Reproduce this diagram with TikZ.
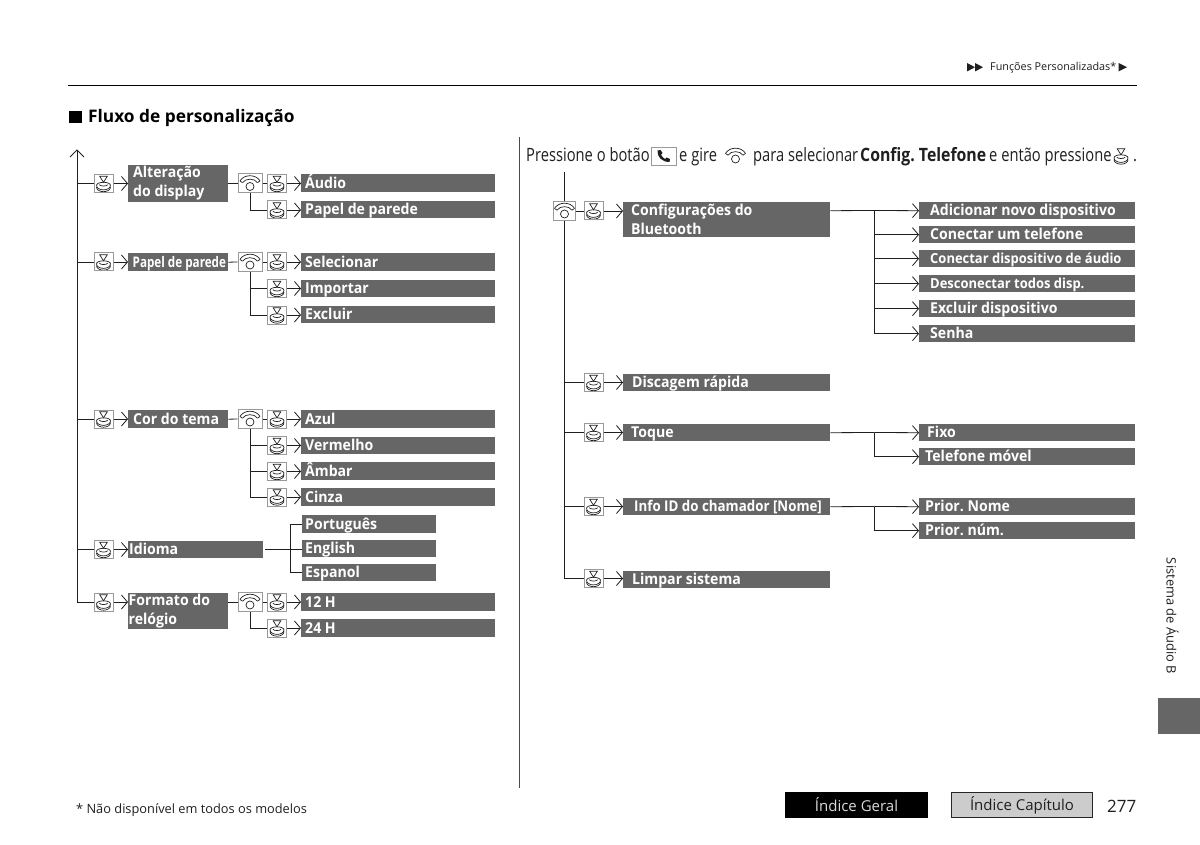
\documentclass[tikz,border=0pt]{standalone}
\usepackage{fontspec}
\setmainfont{Open Sans}
\newfontfamily\condfont[FakeStretch=0.8]{Open Sans}
\newfontfamily\boldcond[FakeStretch=0.86]{Open Sans}
\newfontfamily\narrowfont[FakeStretch=0.9]{Open Sans}
\newfontfamily\menufont[FakeStretch=0.94]{Open Sans}
\usetikzlibrary{arrows.meta}
\definecolor{menugray}{gray}{0.40}
\definecolor{iconedge}{gray}{0.6}
\definecolor{inktone}{gray}{0.12}
\frenchspacing

% Drawings of the two controls, centred on the node that carries them
\newcommand{\pressglyph}{%
  \begin{scope}[shift={(path picture bounding box.center)},line width=0.7pt,draw=inktone]
    \draw (-3.8,-7.2) -- (3.8,-7.2) -- (0,-1.2) -- cycle;
    \draw (-7,1.8) arc[start angle=180,end angle=360,x radius=7,y radius=-4.6];
    \draw (-7,1.8) arc[start angle=180,end angle=0,x radius=7,y radius=-3];
    \draw (-7,3.6) arc[start angle=180,end angle=360,x radius=7,y radius=-4.6];
    \draw (-4.2,1.2) .. controls (-3,3) and (3,3) .. (4.2,1.2);
  \end{scope}}
\newcommand{\dialglyph}{%
  \begin{scope}[shift={(path picture bounding box.center)},line width=0.7pt,draw=inktone]
    \draw (0,3) circle[radius=4];
    \draw (-7.5,-0.8) .. controls (-4.5,-5.5) and (4.5,-5.5) .. (7.5,-0.8);
    \draw (-10,-2.6) .. controls (-6,-9.5) and (6,-9.5) .. (10,-2.6);
    \draw (-10,-2.6) -- (-7.5,-0.8) (10,-2.6) -- (7.5,-0.8);
  \end{scope}}

\tikzset{
  x=1pt,y=-1pt,
  wire/.style={line width=0.8pt,draw=inktone},
  arrowed/.style={wire,-{Straight Barb[length=6pt,width=14pt,line width=0.8pt]}},
  pressbtn/.style={draw=iconedge,fill=white,line width=1pt,minimum width=19pt,minimum height=18pt,inner sep=0pt,path picture={\pressglyph}},
  dialbtn/.style={draw=iconedge,fill=white,line width=1pt,minimum width=24pt,minimum height=19pt,inner sep=0pt,path picture={\dialglyph}},
  pressbare/.style={minimum width=20pt,minimum height=18pt,inner sep=0pt,path picture={\pressglyph}},
  dialbare/.style={minimum width=26pt,minimum height=20pt,inner sep=0pt,path picture={\dialglyph}},
  menutext/.style={font=\menufont\fontsize{15}{19}\selectfont\bfseries,text=white,inner sep=0pt},
  plain/.style={inner sep=0pt,text=inktone},
  instr/.style={plain,anchor=base west,font=\condfont\fontsize{18.4}{20}\selectfont},
}

% Grey menu entry with one line of text: name, left, top, right, bottom, text inset, text
\newcommand{\menuitem}[7]{%
  \pgfmathsetmacro{\mw}{#4-#2}%
  \pgfmathsetmacro{\mh}{#5-#3}%
  \pgfmathsetmacro{\mtx}{#2+#6}%
  \pgfmathsetmacro{\mty}{#5-3.5}%
  \node[fill=menugray,anchor=north west,inner sep=0pt,minimum height=\mh pt,minimum width=\mw pt] (#1) at (#2,#3) {};
  \node[menutext,anchor=base west] (#1t) at (\mtx,\mty) {#7};}
% Grey menu entry with two lines of text, same arguments
\newcommand{\menutwo}[7]{%
  \pgfmathsetmacro{\mw}{#4-#2}%
  \pgfmathsetmacro{\mh}{#5-#3}%
  \pgfmathsetmacro{\mtx}{#2+#6}%
  \node[fill=menugray,anchor=north west,inner sep=0pt,minimum height=\mh pt,minimum width=\mw pt] (#1) at (#2,#3) {};
  \node[menutext,anchor=west,align=left] (#1t) at (\mtx,#3/2+#5/2) {#7};}

\begin{document}
\begin{tikzpicture}
\useasboundingbox (0,0) rectangle (1200,845);
\fill[white] (0,0) rectangle (1200,845);

% Page header
\draw[line width=1pt,draw=black] (68,85.5) -- (1137,85.5);
\fill[inktone] (967,63) -- (967,71.5) -- (975,67.2) -- cycle
               (975,63) -- (975,71.5) -- (983,67.2) -- cycle
               (1118.5,63) -- (1118.5,71.5) -- (1127,67.2) -- cycle;
\node[plain,anchor=base west,font=\fontsize{10.8}{14}\selectfont] (hdr) at (990,71) {Funções Personalizadas*};
\fill[black] (69,111) rectangle (82,123);
\node[plain,anchor=base west,text=black,font=\fontsize{17.3}{20}\selectfont\bfseries] (ttl) at (88,123) {Fluxo de personalização};
\draw[line width=1.2pt,draw=inktone!80] (519.5,137) -- (519.5,788);

% Left column: display settings
\coordinate (ltop) at (77,150);
\coordinate (lend) at (77,602);
\draw[wire] (lend) -- (ltop);
\draw[wire] (70,157) -- (ltop) -- (84,157);

\node[pressbtn] (p1) at (103.5,183.5) {};
\node[pressbtn] (p2) at (103.5,262) {};
\node[pressbtn] (p3) at (103.5,419) {};
\node[pressbtn] (p4) at (103.5,549.5) {};
\node[pressbtn] (p5) at (103.5,602) {};
\menutwo{a}{128}{165}{228}{202}{5}{Alteração\\do display}
\menuitem{b}{128}{253}{228}{271}{4.5}{\condfont\fontsize{14.6}{16}\selectfont\bfseries Papel de parede}
\menuitem{c}{128}{410}{228}{428}{5}{Cor do tema}
\menuitem{d}{128}{541}{263}{558}{1}{Idioma}
\menutwo{e}{128}{593}{228}{629}{0.5}{Formato do\\relógio}
\foreach \n/\m/\k in {1/a/183.5,2/b/262,3/c/419,4/d/549.5,5/e/602}{
  \coordinate (t\n) at (77,\k);
  \draw[wire] (t\n) -- (p\n.west);
  \draw[arrowed] (p\n.east) -- (p\n.east -| \m.west);
}

% Dial and press pairs after each first-level entry
\node[dialbtn] (d1) at (250,183.5) {};
\node[pressbtn] (q1) at (277,183.5) {};
\menuitem{a1}{301}{173.5}{495}{192}{4}{Áudio}
\node[pressbtn] (q2) at (277,210) {};
\menuitem{a2}{301}{201}{495}{218}{4}{Papel de parede}
\draw[wire] (a.east |- d1) -- (d1.west);
\draw[wire] (d1.east) -- (q1.west);
\draw[wire] (d1.south) |- (q2.west);
\draw[arrowed] (q1.east) -- (a1.west |- q1);
\draw[arrowed] (q2.east) -- (a2.west |- q2);

\node[dialbtn] (d2) at (250,262) {};
\node[pressbtn] (q3) at (277,262) {};
\menuitem{b1}{301}{253}{495}{271}{4}{Selecionar}
\node[pressbtn] (q4) at (277,288.5) {};
\menuitem{b2}{301}{280}{495}{297}{4}{Importar}
\node[pressbtn] (q5) at (277,315) {};
\menuitem{b3}{301}{306}{495}{323}{4}{Excluir}
\draw[wire] (b.east) -- (d2.west);
\draw[wire] (d2.east) -- (q3.west);
\draw[wire] (d2.south) |- (q4.west);
\draw[wire] (d2.south) |- (q5.west);
\foreach \q/\l in {q3/b1,q4/b2,q5/b3}{\draw[arrowed] (\q.east) -- (\l.west |- \q);}

\node[dialbtn] (d3) at (250,419) {};
\node[pressbtn] (q6) at (277,419) {};
\menuitem{c1}{301}{410}{495}{428}{4}{Azul}
\node[pressbtn] (q7) at (277,445.5) {};
\menuitem{c2}{301}{437}{495}{454}{4}{Vermelho}
\node[pressbtn] (q8) at (277,471.5) {};
\menuitem{c3}{301}{461.5}{495}{480}{4}{Âmbar}
\node[pressbtn] (q9) at (277,497) {};
\menuitem{c4}{301}{488}{495}{506}{4}{Cinza}
\draw[wire] (c.east) -- (d3.west);
\draw[wire] (d3.east) -- (q6.west);
\draw[wire] (d3.south) |- (q7.west);
\draw[wire] (d3.south) |- (q8.west);
\draw[wire] (d3.south) |- (q9.west);
\foreach \q/\l in {q6/c1,q7/c2,q8/c3,q9/c4}{\draw[arrowed] (\q.east) -- (\l.west |- \q);}

% Language choices, reached without a control
\menuitem{l1}{302}{515}{436}{533}{3}{Português}
\menuitem{l2}{302}{540}{436}{557}{3}{English}
\menuitem{l3}{302}{564}{436}{581}{3}{Espanol}
\coordinate (dgap) at (265,549);
\coordinate (dfork) at (290,549);
\draw[wire] (dgap) -- (l2.west |- dgap);
\draw[wire] (l1.west) -| (dfork);
\draw[wire] (l3.west) -| (dfork);

\node[dialbtn] (d4) at (250,602) {};
\node[pressbtn] (q10) at (277,602) {};
\menuitem{e1}{301}{593}{495}{611}{4}{12 H}
\node[pressbtn] (q11) at (277,628) {};
\menuitem{e2}{301}{619}{495}{637}{4}{24 H}
\draw[wire] (e.east |- d4) -- (d4.west);
\draw[wire] (d4.east) -- (q10.west);
\draw[wire] (d4.south) |- (q11.west);
\draw[arrowed] (q10.east) -- (e1.west |- q10);
\draw[arrowed] (q11.east) -- (e2.west |- q11);

% Right column: instruction line
\node[instr] (i1) at (526,162) {Pressione o botão};
\node[draw=iconedge,line width=0.8pt,fill=white,minimum width=25pt,minimum height=18pt,inner sep=0pt] (phone) at (663.5,156) {};
\fill[inktone] (657.5,150.5) .. controls (657,157) and (662,162) .. (669.5,162)
   -- (670,159) -- (666.5,157.5) -- (665,159) .. controls (663,158) and (661.5,156) .. (661,154.5)
   -- (662.5,153) -- (660.5,150) -- cycle;
\node[instr] (i2) at (679,162) {e gire};
\node[dialbare] (i3) at (735.5,156) {};
\node[instr] (i4) at (753,162) {para selecionar};
\node[instr,font=\boldcond\fontsize{18.4}{20}\selectfont\bfseries] (i5) at (860,162) {Config. Telefone};
\node[instr] (i6) at (989,162) {e então pressione};
\node[pressbare] (i7) at (1121,156) {};
\node[instr] (i8) at (1133,162) {.};

% Right column: phone settings
\coordinate (rtop) at (564.5,172);
\coordinate (rend) at (564.5,578.5);
\draw[wire] (rtop) -- (rend);
\node[dialbtn,minimum width=22pt] (rd) at (564.5,211) {};
\node[pressbtn] (r1) at (593.5,211) {};
\node[pressbtn] (r2) at (593.5,382.5) {};
\node[pressbtn] (r3) at (593.5,432.5) {};
\node[pressbtn] (r4) at (593.5,506.5) {};
\node[pressbtn] (r5) at (593.5,578.5) {};
\menutwo{m1}{623}{202}{830}{237}{8}{Configurações do\\Bluetooth}
\menuitem{m2}{623}{374}{830}{391}{9}{Discagem rápida}
\menuitem{m3}{623}{424}{830}{441}{8}{Toque}
\menuitem{m4}{623}{498}{830}{515}{11}{\narrowfont\fontsize{14.8}{18}\selectfont\bfseries Info ID do chamador [Nome]}
\menuitem{m5}{623}{571}{830}{588}{9}{Limpar sistema}
\draw[wire] (rd.east) -- (r1.west);
\draw[arrowed] (r1.east) -- (r1.east -| m1.west);
\foreach \n/\m/\k in {2/m2/382.5,3/m3/432.5,4/m4/506.5,5/m5/578.5}{
  \coordinate (u\n) at (564.5,\k);
  \draw[wire] (u\n) -- (r\n.west);
  \draw[arrowed] (r\n.east) -- (r\n.east -| \m.west);
}

\menuitem{n1}{919}{202}{1135}{219}{11}{Adicionar novo dispositivo}
\menuitem{n2}{919}{226}{1135}{243}{11}{Conectar um telefone}
\menuitem{n3}{919}{250}{1135}{267}{11}{\fontsize{13.8}{17}\selectfont\bfseries Conectar dispositivo de áudio}
\menuitem{n4}{919}{275}{1135}{292}{11}{\fontsize{13.8}{17}\selectfont\bfseries Desconectar todos disp.}
\menuitem{n5}{919}{300}{1135}{317}{11}{Excluir dispositivo}
\menuitem{n6}{919}{325}{1135}{342}{11}{Senha}
\coordinate (f1) at (874.5,210.5);
\draw[wire] (m1.east |- n1) -- (f1);
\draw[arrowed] (f1) -- (n1.west);
\foreach \l in {n2,n3,n4,n5,n6}{\draw[arrowed] (f1) |- (\l.west);}

\menuitem{o1}{919}{424}{1135}{441}{8}{Fixo}
\menuitem{o2}{919}{448}{1135}{465}{6}{Telefone móvel}
\coordinate (f2) at (874.5,432.5);
\draw[wire] (m3.east) -- (f2);
\draw[arrowed] (f2) -- (o1.west);
\draw[arrowed] (f2) |- (o2.west);

\menuitem{s1}{919}{498}{1135}{515}{6}{Prior. Nome}
\menuitem{s2}{919}{522}{1135}{539}{6}{Prior. núm.}
\coordinate (f3) at (874.5,506.5);
\draw[wire] (m4.east) -- (f3);
\draw[arrowed] (f3) -- (s1.west);
\draw[arrowed] (f3) |- (s2.west);

% Page footer and chapter tab
\node[plain,anchor=base west,font=\fontsize{12.8}{15}\selectfont] (note) at (76,813) {* Não disponível em todos os modelos};
\node[fill=black,text=white!85!black,minimum width=143pt,minimum height=26pt,inner sep=0pt,font=\fontsize{15}{18}\selectfont] (geral) at (856.5,805) {Índice Geral};
\node[fill=gray!40,draw=black!85,line width=1.3pt,text=inktone,minimum width=141pt,minimum height=24.5pt,inner sep=0pt,font=\fontsize{15}{18}\selectfont] (cap) at (1022,805) {Índice Capítulo};
\node[plain,anchor=west,font=\fontsize{17}{20}\selectfont] (pg) at (1107,806) {277};
\node[plain,rotate=-90,font=\fontsize{12.9}{15}\selectfont] (side) at (1172.5,616) {Sistema de Áudio B};
\fill[menugray] (1158,698) rectangle (1200,734);
\end{tikzpicture}
\end{document}
